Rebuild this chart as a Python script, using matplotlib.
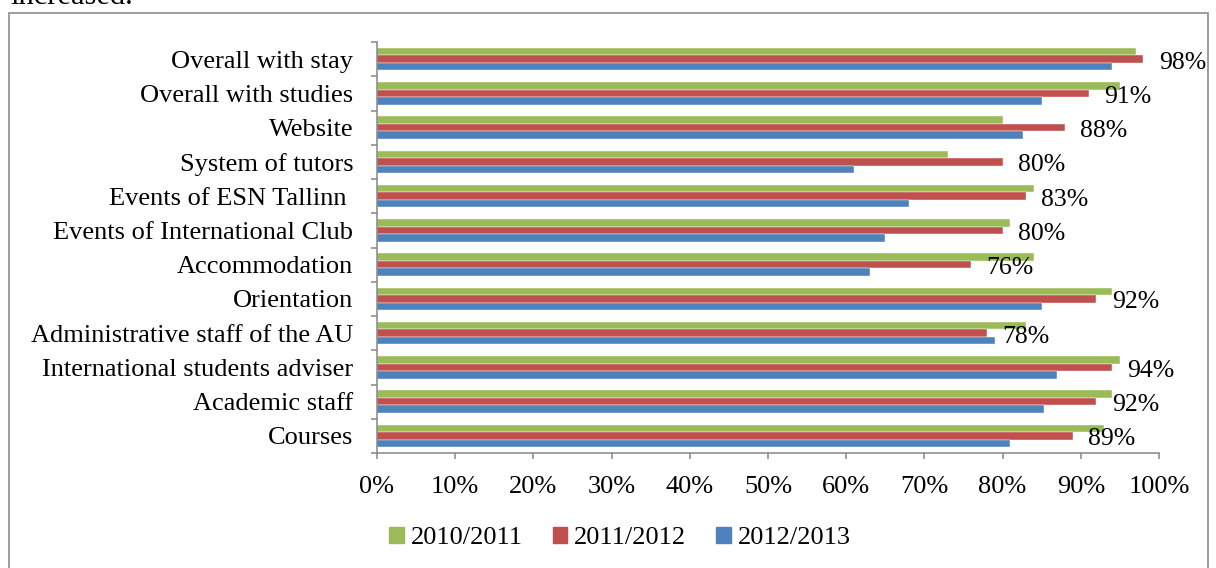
import numpy as np
import matplotlib.pyplot as plt
from matplotlib.patches import Rectangle
from matplotlib.ticker import FuncFormatter

plt.rcParams['font.family'] = ['Liberation Serif', 'DejaVu Serif']

categories = ['Overall with stay', 'Overall with studies', 'Website', 'System of tutors',
              'Events of ESN Tallinn ', 'Events of International Club', 'Accommodation',
              'Orientation', 'Administrative staff of the AU', 'International students adviser',
              'Academic staff', 'Courses']
y2010 = [97, 95, 80, 73, 84, 81, 84, 94, 83, 95, 94, 93]
y2011 = [98, 91, 88, 80, 83, 80, 76, 92, 78, 94, 92, 89]
y2012 = [94, 85, 82.6, 61, 68, 65, 63, 85, 79, 87, 85.3, 81]
series_names = ['2010/2011', '2011/2012', '2012/2013']
colors = ['#9BBB59', '#C0504D', '#4F81BD']

W, H = 1216, 568
fig = plt.figure(figsize=(W / 100, H / 100), dpi=100)

# frame around the chart area and the sentence above it
fig.patches.append(Rectangle((9 / W, -0.1), 1199 / W, 1.1 - 13 / H, transform=fig.transFigure,
                             fill=False, edgecolor='#8c8c8c', linewidth=1.2))
fig.text(10 / W, 1 - 4 / H, 'increased.', fontsize=22, va='baseline', ha='left')

ax = fig.add_axes([377 / W, 1 - 453 / H, (1159 - 377) / W, (453 - 42) / H])

y = np.arange(len(categories))
h = 0.22
for offset, vals, col, name in zip([-h, 0, h], [y2010, y2011, y2012], colors, series_names):
    ax.barh(y + offset, vals, height=h, color=col, label=name,
            edgecolor='white', linewidth=0.3)

# value labels next to the 2011/2012 bars
for yi, v in zip(y, y2011):
    ax.annotate(f'{v:.0f}%', (v, yi), xytext=(11, -2.5), textcoords='offset points',
                ha='left', va='center', fontsize=18.5)

ax.set_xlim(0, 100)
ax.set_ylim(len(categories) - 0.5, -0.5)
ax.set_xticks(np.arange(0, 101, 10))
ax.xaxis.set_major_formatter(FuncFormatter(lambda v, p: f'{v:.0f}%'))
ax.tick_params(axis='x', direction='out', length=4.5, width=1.1, color='#868686',
               labelsize=19, pad=12)

# tick marks between categories, labels at the centres
ax.set_yticks(np.arange(-0.5, len(categories)), labels=[])
ax.set_yticks(y, labels=categories, minor=True)
ax.tick_params(axis='y', which='major', direction='out', length=4.5, width=1.1, color='#868686')
ax.tick_params(axis='y', which='minor', length=0, labelsize=19, pad=17)

for side in ['top', 'right']:
    ax.spines[side].set_visible(False)
for side in ['left', 'bottom']:
    ax.spines[side].set_color('#868686')
    ax.spines[side].set_linewidth(1.1)

handles = [Rectangle((0, 0), 1, 1, color=c) for c in colors]
fig.legend(handles, series_names, loc='center', bbox_to_anchor=(620 / W, 1 - 538 / H),
           ncol=3, frameon=False, fontsize=19, handlelength=0.55, handleheight=0.6,
           handletextpad=0.25, columnspacing=1.15)

fig.savefig('out.png', dpi=100)
